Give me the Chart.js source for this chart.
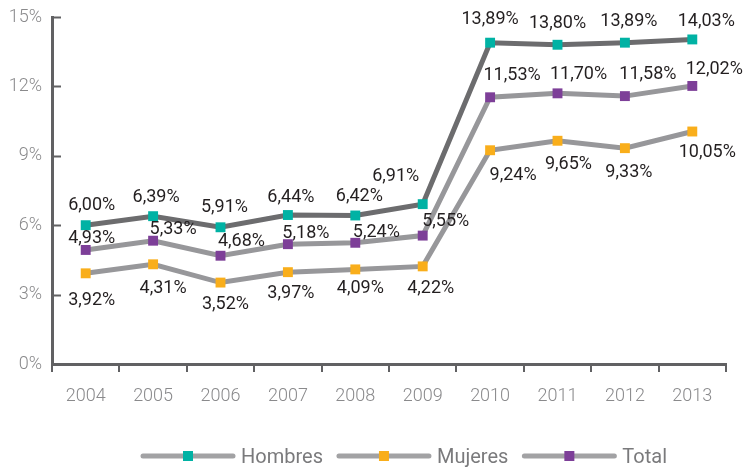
<!DOCTYPE html>
<html>
<head>
<meta charset="utf-8">
<script src="https://cdn.jsdelivr.net/npm/chart.js@4"></script>
<style>
  html, body { margin: 0; padding: 0; background: #fff; }
  #wrap { width: 743px; height: 467px; }
</style>
</head>
<body>
<div id="wrap"><canvas id="chart"></canvas></div>
<script>
const years = ["2004", "2005", "2006", "2007", "2008", "2009", "2010", "2011", "2012", "2013"];
const hombres = [6.00, 6.39, 5.91, 6.44, 6.42, 6.91, 13.89, 13.80, 13.89, 14.03];
const mujeres = [3.92, 4.31, 3.52, 3.97, 4.09, 4.22, 9.24, 9.65, 9.33, 10.05];
const total = [4.93, 5.33, 4.68, 5.18, 5.24, 5.55, 11.53, 11.70, 11.58, 12.02];
const yTicks = [0, 3, 6, 9, 12, 15];

// label nudges (px) relative to each point, per series
const labelShift = {
  Hombres: [[6, -20], [3, -19], [4, -20], [3, -18], [4, -19], [-27, -28], [0, -23], [0, -21], [4, -21], [14, -18]],
  Mujeres: [[6, 27], [10, 24], [5, 22], [3, 21], [5, 19], [8, 22], [23, 25], [11, 24], [4, 24], [15, 21]],
  Total: [[6, -11], [20, -11], [21, -14], [18, -11], [21, -10], [23, -14], [22, -22], [21, -19], [23, -22], [22, -16]]
};

const FONT = "Roboto, 'Noto Sans', sans-serif";
const AXIS = "#616163";

const fmt = v => v.toFixed(2).replace(".", ",") + "%";

const pointLabels = {
  id: "pointLabels",
  afterDatasetsDraw(chart) {
    const ctx = chart.ctx;
    ctx.save();
    ctx.font = "18px " + FONT;
    ctx.fillStyle = "#231f20";
    ctx.textAlign = "center";
    ctx.textBaseline = "middle";
    chart.data.datasets.forEach((ds, i) => {
      const meta = chart.getDatasetMeta(i);
      const shift = labelShift[ds.label];
      meta.data.forEach((pt, j) => {
        const [dx, dy] = shift[j];
        ctx.fillText(fmt(ds.data[j]), pt.x + dx, pt.y + dy);
      });
    });
    ctx.restore();
  }
};

// short ticks on the value axis pointing into the plot
const innerTicks = {
  id: "innerTicks",
  afterDraw(chart) {
    const ctx = chart.ctx;
    const y = chart.scales.y;
    const left = chart.chartArea.left;
    ctx.save();
    ctx.strokeStyle = AXIS;
    ctx.lineWidth = 2;
    yTicks.forEach(v => {
      const py = Math.round(y.getPixelForValue(v)) + 0.5;
      ctx.beginPath();
      ctx.moveTo(left, py);
      ctx.lineTo(left + 9, py);
      ctx.stroke();
    });
    ctx.restore();
  }
};

const lineLegend = {
  id: "lineLegend",
  afterDraw(chart) {
    const ctx = chart.ctx;
    const cy = 456;
    let x = 143;
    ctx.save();
    ctx.font = "20px " + FONT;
    ctx.textBaseline = "middle";
    chart.data.datasets.forEach(ds => {
      ctx.strokeStyle = "#a2a2a4";
      ctx.lineWidth = 5;
      ctx.lineCap = "round";
      ctx.beginPath();
      ctx.moveTo(x, cy);
      ctx.lineTo(x + 90, cy);
      ctx.stroke();
      ctx.fillStyle = ds.pointBackgroundColor;
      ctx.fillRect(x + 40, cy - 5, 10, 10);
      ctx.fillStyle = "#7a7a7c";
      ctx.fillText(ds.label, x + 98, cy + 2);
      x += 98 + ctx.measureText(ds.label).width + 16;
    });
    ctx.restore();
  }
};

const series = (label, data, line, marker) => ({
  label,
  data,
  borderColor: line,
  borderWidth: 5,
  tension: 0,
  pointStyle: "rect",
  pointRadius: 7,
  pointHoverRadius: 7,
  pointBackgroundColor: marker,
  pointBorderColor: marker,
  pointBorderWidth: 0
});

new Chart(document.getElementById("chart"), {
  type: "line",
  data: {
    labels: years,
    datasets: [
      series("Hombres", hombres, "#6c6c6e", "#00b2a4"),
      series("Mujeres", mujeres, "#97979a", "#f9ae1b"),
      series("Total", total, "#97979a", "#7d3f98")
    ]
  },
  options: {
    responsive: true,
    maintainAspectRatio: false,
    animation: false,
    layout: { padding: { top: 17, right: 17, bottom: 63, left: 0 } },
    plugins: {
      legend: { display: false },
      tooltip: { enabled: false }
    },
    scales: {
      x: {
        offset: true,
        afterFit: s => { s.height = 40; s.paddingLeft = 0; s.paddingRight = 0; },
        border: { display: true, color: AXIS, width: 3 },
        grid: { display: true, drawOnChartArea: false, drawTicks: true, tickLength: 8, color: AXIS, lineWidth: 2, offset: true },
        ticks: { color: "#8a8a8c", font: { family: FONT, size: 18, weight: "300" }, padding: 14 }
      },
      y: {
        min: 0,
        max: 15,
        afterFit: s => { s.width = 52; s.paddingTop = 0; s.paddingBottom = 0; },
        afterBuildTicks: s => { s.ticks = yTicks.map(v => ({ value: v })); },
        border: { display: true, color: AXIS, width: 3 },
        grid: { display: true, drawOnChartArea: false, drawTicks: false },
        ticks: {
          color: "#8a8a8c",
          font: { family: FONT, size: 18, weight: "300" },
          padding: 10,
          callback: v => v + "%"
        }
      }
    }
  },
  plugins: [pointLabels, innerTicks, lineLegend]
});
</script>
</body>
</html>
